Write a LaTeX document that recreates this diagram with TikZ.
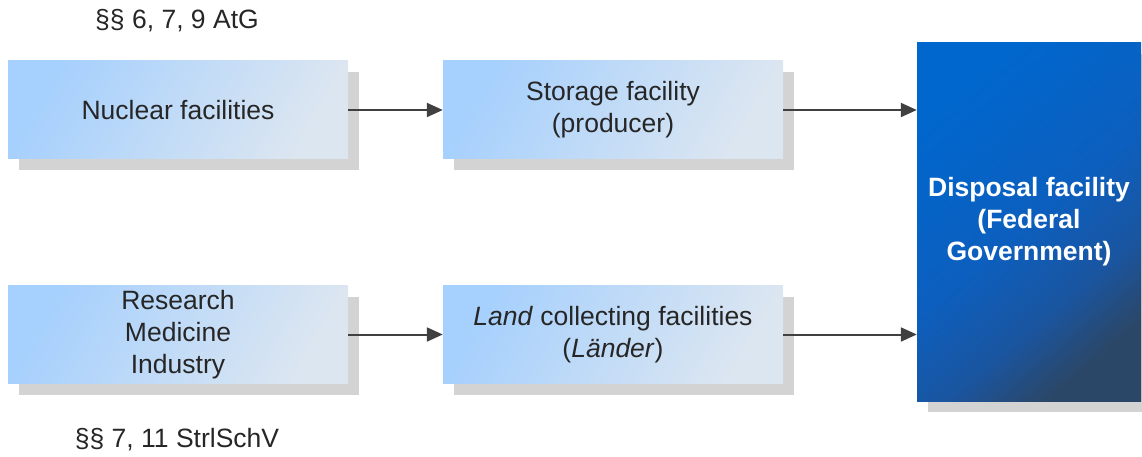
\documentclass[tikz,border=0pt]{standalone}
\usepackage{fontspec}
\setmainfont{Liberation Sans}
\usetikzlibrary{arrows.meta,shadows}
\definecolor{boxlight}{HTML}{A6D0FD}
\definecolor{boxmid}{HTML}{BCDCFB}
\definecolor{boxpale}{HTML}{DCE6F1}
\definecolor{deepblue}{HTML}{0067CE}
\definecolor{midblue}{HTML}{0C5FBE}
\definecolor{dimblue}{HTML}{1A55A0}
\definecolor{navy}{HTML}{2B4767}
\definecolor{shadowgray}{HTML}{D3D3D3}
\definecolor{inkgray}{HTML}{262626}
\definecolor{arrowgray}{HTML}{404040}
% bright blue over most of the box, darkening into the far corner
\pgfdeclarehorizontalshading{disposalfade}{100bp}{color(0bp)=(deepblue); color(25bp)=(deepblue);
  color(50bp)=(midblue); color(64bp)=(dimblue); color(75bp)=(navy); color(100bp)=(navy)}
\tikzset{
  flowbox/.style={rectangle, inner sep=0pt, minimum width=340pt, minimum height=98pt,
    align=center, text=inkgray, font=\fontsize{26.5}{32}\selectfont,
    left color=boxlight, middle color=boxmid, right color=boxpale, shading angle=60,
    general shadow={fill=shadowgray, shadow xshift=11pt, shadow yshift=-11pt}},
  finalbox/.style={rectangle, inner sep=0pt, minimum width=224pt, minimum height=358pt,
    align=center, text=white, font=\bfseries\fontsize{26.5}{32}\selectfont,
    shading=disposalfade, shading angle=-50,
    general shadow={fill=shadowgray, shadow xshift=11pt, shadow yshift=-11pt}},
  lawnote/.style={text=inkgray, font=\fontsize{26.5}{32}\selectfont, inner sep=0pt},
  flow/.style={draw=arrowgray, line width=2pt, -{Triangle[length=16pt,width=14pt]}}
}
\begin{document}
\begin{tikzpicture}[x=1pt,y=-1pt]
  \useasboundingbox (0,0) rectangle (1142,457);
  % sources
  \node[flowbox] (nuclear) at (178,110) {Nuclear facilities};
  \node[flowbox] (research) at (178,334.5) {Research\\Medicine\\Industry};
  % interim storage
  \node[flowbox] (storage) at (613,110) {Storage facility\\(producer)};
  \node[flowbox] (land) at (613,334.5) {\textit{Land} collecting facilities\\(\textit{Länder})};
  % final disposal
  \node[finalbox] (disposal) at (1029,222) {Disposal facility\\(Federal\\Government)};
  % legal basis
  \node[lawnote] (atg) at (177,21) {§§ 6, 7, 9 AtG};
  \node[lawnote] (strl) at (177,440) {§§ 7, 11 StrlSchV};
  % connectors
  \draw[flow] (nuclear) -- (storage);
  \draw[flow] (research) -- (land);
  \draw[flow] (storage.east) -- (storage.east -| disposal.west);
  \draw[flow] (land.east) -- (land.east -| disposal.west);
\end{tikzpicture}
\end{document}
